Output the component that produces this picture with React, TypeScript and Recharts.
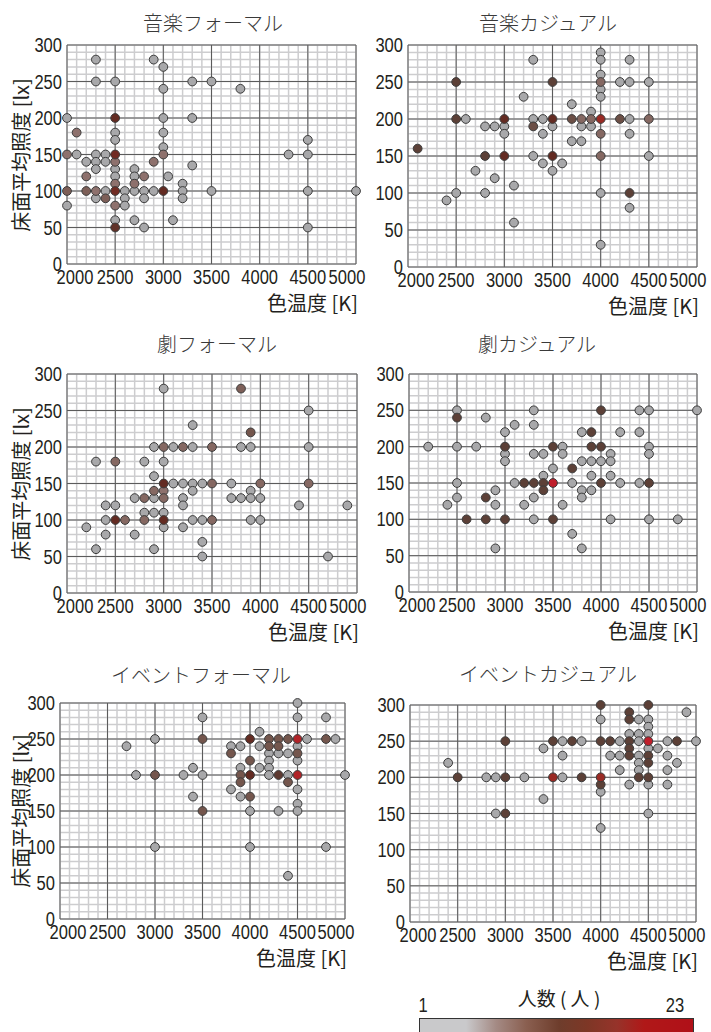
import React from 'react';
import { ScatterChart, Scatter, XAxis, YAxis, CartesianGrid } from 'recharts';

// ---- axis / grid values ----
const xMajor = [2000, 2500, 3000, 3500, 4000, 4500, 5000];
const yMajor = [0, 50, 100, 150, 200, 250, 300];
const xMinor = [2000, 2100, 2200, 2300, 2400, 2500, 2600, 2700, 2800, 2900, 3000, 3100, 3200, 3300, 3400, 3500, 3600, 3700, 3800, 3900, 4000, 4100, 4200, 4300, 4400, 4500, 4600, 4700, 4800, 4900, 5000];
const yMinor = [0, 10, 20, 30, 40, 50, 60, 70, 80, 90, 100, 110, 120, 130, 140, 150, 160, 170, 180, 190, 200, 210, 220, 230, 240, 250, 260, 270, 280, 290, 300];

const xTitle = '色温度 [K]';
const yTitle = '床面平均照度 [lx]';
const legendTitle = '人数 ( 人 )';
const legendMin = 1;
const legendMax = 23;

// ---- data: [colour temperature K, floor illuminance lx, number of people] ----
type Pt = [number, number, number];

const musicFormal: Pt[] = [
  [2300, 280, 1], [2300, 250, 1], [2500, 250, 1], [2900, 280, 1], [3000, 270, 1], [3000, 240, 1], [3300, 250, 1], [3500, 250, 1], [3800, 240, 1],
  [2000, 200, 1], [2500, 200, 13], [3000, 200, 1], [3300, 200, 1],
  [2100, 180, 4], [2500, 180, 1], [2500, 170, 1], [3000, 180, 1], [3000, 160, 1], [4500, 170, 1],
  [2000, 150, 4], [2100, 150, 1], [2300, 150, 1], [2400, 150, 1], [2500, 150, 14], [3000, 150, 4], [4300, 150, 1], [4500, 150, 1],
  [2200, 140, 1], [2300, 140, 1], [2400, 140, 1], [2500, 140, 4], [2900, 140, 4], [3300, 135, 1],
  [2300, 130, 1], [2500, 130, 1], [2700, 130, 1],
  [2200, 120, 4], [2500, 120, 1], [2700, 120, 1], [2800, 120, 4], [3050, 120, 1],
  [2500, 110, 4], [2700, 110, 4], [3200, 110, 1],
  [2000, 100, 6], [2200, 100, 6], [2300, 100, 4], [2400, 100, 1], [2500, 100, 14], [2600, 100, 1], [2700, 100, 1], [2800, 100, 1], [2900, 100, 1], [3000, 100, 13], [3200, 100, 1], [3500, 100, 1], [4500, 100, 1], [5000, 100, 1],
  [2300, 90, 1], [2400, 90, 6], [2600, 90, 1], [2800, 90, 1], [3200, 90, 1],
  [2000, 80, 1], [2500, 80, 4], [2600, 80, 1],
  [2500, 60, 1], [2700, 60, 1], [3100, 60, 1],
  [2500, 50, 12], [2800, 50, 1], [4500, 50, 1],
];

const musicCasual: Pt[] = [
  [3300, 280, 1], [4000, 290, 1], [4000, 280, 1], [4300, 280, 1], [4000, 260, 1], [4000, 250, 5], [2500, 250, 10], [3500, 250, 10], [4200, 250, 1], [4300, 250, 1], [4500, 250, 1], [4000, 240, 1], [4000, 230, 1], [3200, 230, 1], [3700, 220, 1], [3900, 210, 1],
  [2500, 200, 10], [2600, 200, 1], [3000, 200, 13], [3300, 200, 1], [3400, 200, 1], [3500, 200, 13], [3700, 200, 8], [3800, 200, 5], [3900, 200, 5], [4000, 200, 17], [4200, 200, 8], [4300, 200, 1], [4500, 200, 5],
  [2800, 190, 1], [2900, 190, 1], [3000, 190, 1], [3300, 190, 8], [3500, 190, 1], [3800, 190, 1], [3900, 190, 1],
  [3000, 180, 1], [3400, 180, 1], [4000, 180, 5], [4300, 180, 1],
  [3700, 170, 1], [3800, 170, 1], [2100, 160, 10],
  [2800, 150, 10], [3000, 150, 13], [3300, 150, 1], [3500, 150, 13], [4000, 150, 5], [4500, 150, 1],
  [3400, 140, 1], [3600, 140, 1], [3500, 130, 1], [2700, 130, 1], [2900, 120, 1], [3100, 110, 1],
  [2500, 100, 1], [2800, 100, 1], [4000, 100, 1], [4300, 100, 10], [2400, 90, 1], [4300, 80, 1], [3100, 60, 1], [4000, 30, 1],
];

const theaterFormal: Pt[] = [
  [3000, 280, 1], [3800, 280, 6], [4500, 250, 1], [3300, 230, 1], [3900, 220, 7],
  [2900, 200, 1], [3000, 200, 5], [3100, 200, 1], [3200, 200, 5], [3300, 200, 1], [3500, 200, 5], [3800, 200, 1], [3900, 200, 1], [4500, 200, 1],
  [2300, 180, 1], [2500, 180, 5], [2800, 180, 1], [3000, 180, 1], [2900, 160, 1],
  [3000, 150, 13], [3100, 150, 1], [3200, 150, 1], [3300, 150, 1], [3400, 150, 1], [3500, 150, 5], [3700, 150, 1], [4000, 150, 5], [4500, 150, 5],
  [2900, 140, 5], [3000, 140, 4], [3300, 140, 1], [3900, 140, 1],
  [2700, 130, 1], [2800, 130, 5], [2900, 130, 1], [3000, 130, 5], [3200, 130, 1], [3700, 130, 1], [3800, 130, 1], [3900, 130, 1], [4000, 130, 1],
  [2400, 120, 1], [2500, 120, 1], [3200, 120, 1], [4400, 120, 1], [4900, 120, 1],
  [2800, 110, 1], [2900, 110, 1], [3000, 110, 1],
  [2400, 100, 1], [2500, 100, 13], [2600, 100, 5], [2800, 100, 5], [3000, 100, 13], [3300, 100, 1], [3400, 100, 1], [3500, 100, 5], [3900, 100, 1], [4000, 100, 1],
  [2200, 90, 1], [3000, 90, 1], [3200, 90, 1], [2400, 80, 1], [2700, 80, 1], [3400, 70, 1], [2300, 60, 1], [2900, 60, 1], [3400, 50, 1], [4700, 50, 1],
];

const theaterCasual: Pt[] = [
  [2500, 250, 1], [2500, 240, 10], [2800, 240, 1], [3300, 250, 1], [4000, 250, 10], [4400, 250, 1], [4500, 250, 1], [5000, 250, 1],
  [3100, 230, 1], [3300, 230, 1], [3000, 220, 1], [3800, 220, 1], [3900, 220, 10], [4200, 220, 1], [4400, 220, 1],
  [2200, 200, 1], [2500, 200, 1], [2700, 200, 1], [3000, 200, 10], [3500, 200, 10], [3600, 200, 1], [3900, 200, 10], [4000, 200, 10], [4500, 200, 1],
  [3000, 190, 1], [3300, 190, 1], [3400, 190, 1], [3600, 190, 1], [4100, 190, 1], [4500, 190, 1],
  [3000, 180, 1], [3800, 180, 1], [3900, 180, 1], [4000, 180, 1], [4100, 180, 1],
  [3500, 170, 1], [3700, 170, 10], [3400, 160, 1], [3900, 160, 1], [4100, 160, 1],
  [2500, 150, 1], [3100, 150, 1], [3200, 150, 10], [3300, 150, 10], [3400, 150, 10], [3500, 150, 22], [3700, 150, 1], [4000, 150, 10], [4200, 150, 1], [4400, 150, 1], [4500, 150, 10],
  [2900, 140, 1], [3400, 140, 10], [3800, 140, 1], [3900, 140, 1],
  [2500, 130, 1], [2800, 130, 10], [3300, 130, 1], [3800, 130, 1],
  [2400, 120, 1], [2900, 120, 1], [3200, 120, 1], [3600, 120, 1],
  [2600, 100, 10], [2800, 100, 10], [3000, 100, 10], [3300, 100, 1], [3500, 100, 10], [4100, 100, 1], [4500, 100, 1], [4800, 100, 1],
  [3700, 80, 1], [2900, 60, 1], [3800, 60, 1],
];

const eventFormal: Pt[] = [
  [4500, 300, 1], [3500, 280, 1], [4500, 280, 1], [4800, 280, 1], [4100, 260, 1],
  [3000, 250, 1], [3500, 250, 7], [4000, 250, 13], [4200, 250, 7], [4300, 250, 7], [4400, 250, 7], [4500, 250, 20], [4600, 250, 1], [4800, 250, 7], [4900, 250, 1],
  [2700, 240, 1], [3800, 240, 1], [3900, 240, 1], [4100, 240, 1], [4200, 240, 7], [4300, 240, 7], [4500, 240, 1],
  [3800, 230, 7], [4200, 230, 1], [4300, 230, 1], [4400, 230, 1], [4500, 230, 7],
  [4000, 220, 7], [4200, 220, 1], [4500, 220, 1],
  [3400, 210, 1], [3900, 210, 1], [4100, 210, 1], [4200, 210, 1],
  [2800, 200, 1], [3000, 200, 7], [3300, 200, 1], [3500, 200, 1], [3900, 200, 7], [4000, 200, 13], [4200, 200, 1], [4300, 200, 11], [4400, 200, 1], [4500, 200, 20], [5000, 200, 1],
  [3900, 190, 7], [4400, 190, 7], [3800, 180, 1], [4500, 180, 1],
  [3400, 170, 1], [3900, 170, 1], [4000, 170, 7], [4500, 160, 1],
  [3500, 150, 7], [4000, 150, 1], [4300, 150, 1], [4500, 150, 1],
  [3000, 100, 1], [4000, 100, 1], [4800, 100, 1], [4400, 60, 1],
];

const eventCasual: Pt[] = [
  [4000, 300, 10], [4500, 300, 10], [4900, 290, 1], [4300, 290, 10], [4000, 280, 1], [4300, 280, 10], [4400, 280, 1], [4500, 280, 1], [4500, 270, 1], [4300, 260, 1], [4400, 260, 1], [4500, 260, 1],
  [3000, 250, 10], [3500, 250, 10], [3600, 250, 1], [3700, 250, 10], [3800, 250, 1], [4000, 250, 10], [4100, 250, 10], [4200, 250, 1], [4300, 250, 10], [4400, 250, 1], [4500, 250, 22], [4700, 250, 1], [4800, 250, 10], [5000, 250, 1],
  [3400, 240, 1], [4300, 240, 10], [4500, 240, 1], [4600, 240, 1],
  [3600, 230, 1], [4100, 230, 1], [4200, 230, 1], [4300, 230, 10], [4400, 230, 1], [4500, 230, 10], [4700, 230, 1],
  [2400, 220, 1], [4400, 220, 1], [4500, 220, 10], [4800, 220, 1],
  [4200, 210, 1], [4400, 210, 1], [4700, 210, 1],
  [2500, 200, 10], [2800, 200, 1], [2900, 200, 1], [3000, 200, 10], [3200, 200, 1], [3500, 200, 17], [3600, 200, 1], [3800, 200, 10], [4000, 200, 17], [4400, 200, 10], [4500, 200, 10],
  [4000, 190, 10], [4300, 190, 1], [4500, 190, 1], [4700, 190, 1], [4000, 180, 1], [3400, 170, 1],
  [2900, 150, 1], [3000, 150, 10], [4500, 150, 1], [4000, 130, 1],
];

// ---- styling ----
const TICK_FONT = "'Liberation Sans', Arial, sans-serif";
const JP_FONT = "'Noto Sans CJK JP', 'Noto Sans', sans-serif";
const INK = '#231f20';
const DIGIT_W = 9.2;

const colorStops: [number, [number, number, number]][] = [
  [1, [168, 168, 170]],
  [4, [142, 113, 109]],
  [7, [116, 86, 77]],
  [10, [92, 64, 55]],
  [13, [99, 43, 34]],
  [17, [154, 42, 36]],
  [22, [192, 31, 43]],
];

function colorFor(n: number): string {
  if (n <= colorStops[0][0]) return `rgb(${colorStops[0][1].join(',')})`;
  for (let i = 1; i < colorStops.length; i++) {
    const [n1, c1] = colorStops[i];
    const [n0, c0] = colorStops[i - 1];
    if (n <= n1) {
      const t = (n - n0) / (n1 - n0);
      const c = c0.map((v, j) => Math.round(v + (c1[j] - v) * t));
      return `rgb(${c.join(',')})`;
    }
  }
  return `rgb(${colorStops[colorStops.length - 1][1].join(',')})`;
}

type Panel = {
  title: string;
  data: Pt[];
  l: number; t: number; r: number; b: number;
  yLabel: boolean;
  titleX: number; titleY: number;
};

const panels: Panel[] = [
  { title: '音楽フォーマル', data: musicFormal, l: 67, t: 45, r: 356, b: 264, yLabel: true, titleX: 213, titleY: 23 },
  { title: '音楽カジュアル', data: musicCasual, l: 408, t: 45, r: 697, b: 267, yLabel: false, titleX: 548, titleY: 23 },
  { title: '劇フォーマル', data: theaterFormal, l: 67, t: 374, r: 357, b: 593, yLabel: true, titleX: 217, titleY: 344 },
  { title: '劇カジュアル', data: theaterCasual, l: 409, t: 374, r: 697, b: 592, yLabel: false, titleX: 537, titleY: 344 },
  { title: 'イベントフォーマル', data: eventFormal, l: 60, t: 703, r: 345, b: 919, yLabel: true, titleX: 201, titleY: 675 },
  { title: 'イベントカジュアル', data: eventCasual, l: 410, t: 705, r: 696, b: 922, yLabel: false, titleX: 548, titleY: 674 },
];

const NumText = ({ x, y, value, anchor, dy }: { x: number; y: number; value: number; anchor: 'start' | 'middle' | 'end'; dy: string }) => {
  const s = String(value);
  return (
    <text x={x} y={y} dy={dy} textAnchor={anchor} fontFamily={TICK_FONT} fontSize={19.5} fill={INK}
      textLength={s.length * DIGIT_W} lengthAdjust="spacingAndGlyphs">
      {s}
    </text>
  );
};

const XTick = (props: any) => {
  const { x, y, payload } = props;
  const v = payload.value;
  const shift = v === 2000 ? 8 : v === 5000 ? -9 : 0;
  return <NumText x={x + shift} y={y} value={v} anchor="middle" dy="0.71em" />;
};

const YTick = (props: any) => {
  const { x, y, payload } = props;
  return <NumText x={x} y={y} value={payload.value} anchor="end" dy="0.36em" />;
};

const PeopleDot = (props: any) => {
  const { cx, cy, payload } = props;
  if (cx == null || cy == null) return null;
  return <circle cx={cx} cy={cy} r={4.4} fill={colorFor(payload.n)} stroke="#3c3c3c" strokeWidth={1} />;
};

function PanelChart({ p }: { p: Panel }) {
  const ML = 60, MT = 20, MR = 25, MB = 40;
  const W = p.r - p.l + ML + MR;
  const H = p.b - p.t + MT + MB;
  const data = p.data
    .map(([k, lx, n]) => ({ k, lx, n }))
    .sort((a, b) => a.n - b.n);
  return (
    <>
      <div style={{ position: 'absolute', left: p.l - ML, top: p.t - MT, width: W, height: H }}>
        <ScatterChart width={W} height={H} margin={{ top: MT, right: MR, bottom: 0, left: 0 }} style={{ overflow: 'visible' }}>
          <CartesianGrid verticalValues={xMinor} horizontalValues={yMinor} stroke="#cdcdcf" strokeWidth={1.5} />
          <CartesianGrid verticalValues={xMajor} horizontalValues={yMajor} stroke="#5b5b5b" strokeWidth={1} />
          <XAxis type="number" dataKey="k" domain={[2000, 5000]} ticks={xMajor} interval={0}
            tick={<XTick />} tickLine={false} axisLine={false} height={MB} tickSize={4} tickMargin={2} />
          <YAxis type="number" dataKey="lx" domain={[0, 300]} ticks={yMajor} interval={0}
            tick={<YTick />} tickLine={false} axisLine={false} width={ML} tickSize={3} tickMargin={2} />
          <Scatter data={data} isAnimationActive={false} shape={PeopleDot} />
        </ScatterChart>
      </div>
      <div style={{
        position: 'absolute', left: p.titleX, top: p.titleY, transform: 'translate(-50%, -50%)',
        fontFamily: JP_FONT, fontSize: 20, fontWeight: 300, color: '#3a3a3a', whiteSpace: 'nowrap', lineHeight: 1,
      }}>{p.title}</div>
      {p.yLabel && (
        <div style={{
          position: 'absolute', left: 21, top: (p.t + p.b) / 2, transform: 'translate(-50%, -50%) rotate(-90deg)',
          fontFamily: JP_FONT, fontSize: 20, color: INK, whiteSpace: 'nowrap', lineHeight: 1,
        }}>{yTitle}</div>
      )}
      <div style={{
        position: 'absolute', right: 711 - (p.r + 2), top: p.b + 39, transform: 'translateY(-50%)',
        fontFamily: JP_FONT, fontSize: 20, color: INK, whiteSpace: 'nowrap', lineHeight: 1,
      }}>{xTitle}</div>
    </>
  );
}

export default function App() {
  return (
    <div style={{ position: 'absolute', left: 0, top: 0, width: 711, height: 1032, background: '#fff', overflow: 'hidden' }}>
      {panels.map((p) => <PanelChart key={p.title} p={p} />)}
      <div style={{
        position: 'absolute', left: 559, top: 997, transform: 'translate(-50%, -50%)',
        fontFamily: JP_FONT, fontSize: 19, color: INK, whiteSpace: 'pre', lineHeight: 1,
      }}>{legendTitle}</div>
      <svg style={{ position: 'absolute', left: 400, top: 990, overflow: 'visible' }} width={300} height={42}>
        <defs>
          <linearGradient id="peopleScale" x1="0" x2="1" y1="0" y2="0">
            <stop offset="0" stopColor="#c9c9cb" />
            <stop offset="0.17" stopColor="#c9c9cb" />
            <stop offset="0.28" stopColor="#a48a84" />
            <stop offset="0.39" stopColor="#8a5f50" />
            <stop offset="0.51" stopColor="#6e3d2c" />
            <stop offset="0.61" stopColor="#7d3726" />
            <stop offset="0.72" stopColor="#96332a" />
            <stop offset="0.82" stopColor="#b01818" />
            <stop offset="1" stopColor="#b01018" />
          </linearGradient>
        </defs>
        <NumText x={23} y={15} value={legendMin} anchor="middle" dy="0.36em" />
        <NumText x={275} y={15} value={legendMax} anchor="middle" dy="0.36em" />
        <rect x={19.5} y={28.5} width={274} height={14} fill="url(#peopleScale)" stroke="#333" strokeWidth={1} />
      </svg>
    </div>
  );
}
